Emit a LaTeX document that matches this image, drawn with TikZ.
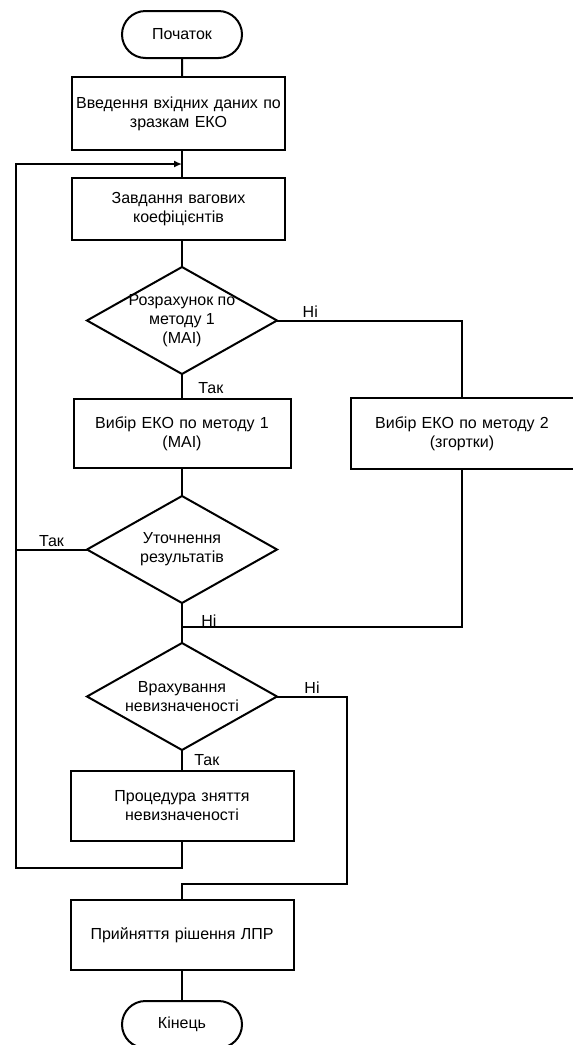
\documentclass[tikz,border=0pt]{standalone}
\usepackage{fontspec}
\setmainfont{Liberation Sans}
\usetikzlibrary{arrows.meta,positioning,shapes.geometric,shapes.misc}

\begin{document}
\begin{tikzpicture}[
      x=1pt, y=1pt,
      font=\fontsize{16}{19}\selectfont,
      line width=2pt,
      every node/.style={outer sep=0pt},
      term/.style={rounded rectangle,draw,minimum width=124pt,minimum height=47pt,inner sep=2pt},
      box/.style={rectangle,draw,align=center,inner xsep=3pt,inner ysep=2pt},
      decision/.style={diamond,draw,align=center,aspect=1.776,minimum width=190pt,minimum height=107pt,inner sep=0pt},
      arrow/.style={-{Latex[length=8pt,width=7pt]}}
    ]
    \useasboundingbox (0,0) rectangle (573,-1045);
    \node[term] (start) at (182,-34.5) {Початок};
    \node[box,below=19pt of start,xshift=-3.5pt,text width=207pt,minimum height=73pt] (in) {Введення вхідних даних по\\зразкам ЕКО};
    \node[box,below=28pt of in,text width=207pt,minimum height=62pt] (wt) {Завдання вагових\\коефіцієнтів};
    \node[decision,below=27pt of wt,xshift=3.5pt,inner sep=-6.5pt] (d1) {Розрахунок по\\методу 1\\(МАІ)};
    \node[box,below=25pt of d1,text width=211pt,minimum height=69pt] (m1) {Вибір ЕКО по методу 1\\(МАІ)};
    \node[box,right=60pt of m1,text width=217pt,minimum height=71pt] (m2) {Вибір ЕКО по методу 2\\(згортки)};
    \node[decision,below=28pt of m1] (d2) {Уточнення\\результатів};
    \node[decision,below=40pt of d2] (d3) {Врахування\\невизначеності};
    \node[box,below=21pt of d3,text width=217pt,minimum height=70pt] (proc) {Процедура зняття\\невизначеності};
    \node[box,below=59pt of proc,text width=217pt,minimum height=70pt] (fin) {Прийняття рішення ЛПР};
    \node[term,below=31pt of fin] (stop) {Кінець};
    % helper points
    \coordinate (lx) at (16,0);
    \coordinate (rx) at (347,0);
    \coordinate (ltop) at ([yshift=-14pt]in.south -| d1.north);
    \coordinate (lbot) at ([yshift=-27pt]proc.south);
    \coordinate (mg) at ([yshift=-24pt]d2.south);
    \coordinate (fj) at ([yshift=16pt]fin.north);
    \draw (start) -- (in.north -| start.south);
    \draw (in.south -| d1.north) -- (wt.north -| d1.north);
    \draw (wt.south -| d1.north) -- (d1.north);
    \draw (d1.south) -- node[pos=0.55,right=13pt]{Так} (m1.north);
    \draw (d1.east) -- node[pos=0.18,above]{Ні} (d1.east -| m2.north) -- (m2.north);
    \draw (m1.south) -- (d2.north);
    \draw (d2.west) -- node[above]{Так} (d2.west -| lx);
    \draw (d2.south) -- node[pos=0.45,right=16pt]{Ні} (d3.north);
    \draw (m2.south) -- (m2.south |- mg) -- (mg);
    \draw (d3.south) -- node[pos=0.5,right=9pt]{Так} (proc.north);
    \draw (d3.east) -- node[above]{Ні} (d3.east -| rx) -- (fj -| rx) -- (fj) -- (fin.north);
    \draw[arrow] (proc.south) -- (lbot) -- (lbot -| lx) -- (ltop -| lx) -- (ltop);
    \draw (fin.south) -- (stop.north);
  \end{tikzpicture}
\end{document}
